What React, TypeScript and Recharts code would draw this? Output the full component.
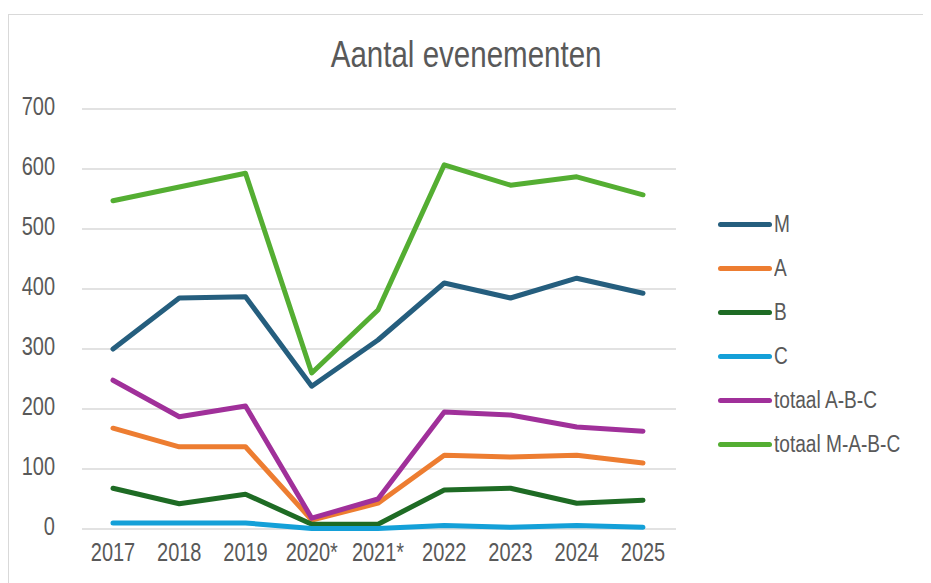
import { CartesianGrid, Line, LineChart, XAxis, YAxis } from "recharts";

const years = ["2017", "2018", "2019", "2020*", "2021*", "2022", "2023", "2024", "2025"];
const m = [300, 385, 387, 238, 315, 410, 385, 418, 393];
const a = [168, 137, 137, 15, 43, 123, 120, 123, 110];
const b = [68, 42, 58, 8, 8, 65, 68, 43, 48];
const c = [10, 10, 10, 1, 1, 6, 3, 6, 3];
const totaalABC = [248, 187, 205, 18, 50, 195, 190, 170, 163];
const totaalMABC = [547, 570, 593, 260, 365, 607, 573, 587, 557];
const yTicks = [0, 100, 200, 300, 400, 500, 600, 700];

const SERIES = [
  { key: "M", color: "#255e7e", values: m },
  { key: "A", color: "#ed7d31", values: a },
  { key: "B", color: "#1e6b24", values: b },
  { key: "C", color: "#14a0d8", values: c },
  { key: "totaal A-B-C", color: "#a0309a", values: totaalABC },
  { key: "totaal M-A-B-C", color: "#54ae32", values: totaalMABC },
];

const data = years.map((year, i) => {
  const row: Record<string, string | number> = { year };
  SERIES.forEach((s) => (row[s.key] = s.values[i]));
  return row;
});

// no narrow font installed, so squeeze Liberation Sans horizontally
const FONT = '"Liberation Sans", Arial, sans-serif';
const TEXT = "#595959";
const SQUEEZE = 0.8;

function XTick({ x, y, payload }: any) {
  return (
    <text
      transform={`translate(${x},${y}) scale(${SQUEEZE},1)`}
      textAnchor="middle"
      dy={26}
      fontSize={25}
      fill={TEXT}
      fontFamily={FONT}
    >
      {payload.value}
    </text>
  );
}

function YTick({ x, y, payload }: any) {
  return (
    <text
      transform={`translate(${x},${y}) scale(${SQUEEZE},1)`}
      textAnchor="end"
      dy={6}
      fontSize={25}
      fill={TEXT}
      fontFamily={FONT}
    >
      {payload.value}
    </text>
  );
}

function LegendBox() {
  return (
    <div style={{ position: "absolute", left: 709, top: 187, fontFamily: FONT }}>
      {SERIES.map((s) => (
        <div key={s.key} style={{ display: "flex", alignItems: "center", height: 44 }}>
          <div style={{ width: 54, height: 5, borderRadius: 3, background: s.color }} />
          <span
            style={{
              fontSize: 23,
              color: TEXT,
              marginLeft: 2,
              whiteSpace: "nowrap",
              display: "inline-block",
              transform: `scaleX(${SQUEEZE + 0.03})`,
              transformOrigin: "left center",
            }}
          >
            {s.key}
          </span>
        </div>
      ))}
    </div>
  );
}

export default function App() {
  return (
    <div
      style={{
        position: "relative",
        marginTop: 6,
        width: 922,
        height: 568,
        borderTop: "1px solid #d9d9d9",
        borderLeft: "1px solid #d9d9d9",
        background: "#fff",
        overflow: "hidden",
      }}
    >
      <div
        style={{
          position: "absolute",
          top: 19,
          left: 0,
          width: 914,
          textAlign: "center",
          fontFamily: FONT,
          fontSize: 36,
          color: TEXT,
        }}
      >
        <span style={{ display: "inline-block", transform: "scaleX(0.82)" }}>Aantal evenementen</span>
      </div>
      <LineChart width={922} height={568} data={data} margin={{ top: 94, right: 255, bottom: 24, left: 23 }}>
        <CartesianGrid vertical={false} stroke="#d9d9d9" strokeWidth={1.5} />
        <XAxis
          dataKey="year"
          axisLine={false}
          tickLine={false}
          tickMargin={0}
          padding={{ left: 31, right: 33 }}
          tick={<XTick />}
        />
        <YAxis
          domain={[0, 700]}
          ticks={yTicks}
          width={50}
          axisLine={false}
          tickLine={false}
          tickMargin={21}
          tick={<YTick />}
        />
        {SERIES.map((s) => (
          <Line
            key={s.key}
            dataKey={s.key}
            stroke={s.color}
            strokeWidth={5}
            strokeLinejoin="round"
            strokeLinecap="round"
            dot={false}
            type="linear"
            isAnimationActive={false}
          />
        ))}
      </LineChart>
      <LegendBox />
    </div>
  );
}
